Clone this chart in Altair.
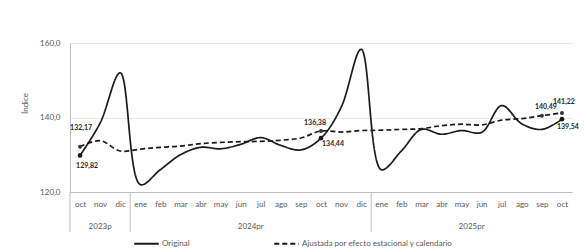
import altair as alt
import pandas as pd

# ---- data ----
meses = ["oct", "nov", "dic", "ene", "feb", "mar", "abr", "may", "jun", "jul", "ago", "sep",
         "oct", "nov", "dic", "ene", "feb", "mar", "abr", "may", "jun", "jul", "ago", "sep", "oct"]
anios = ["2023p"] * 3 + ["2024pr"] * 12 + ["2025pr"] * 10
original = [129.82, 138.5, 152.0, 122.0, 126.0, 130.0, 132.0, 131.6, 132.8, 134.6, 132.5, 131.3,
            134.44, 142.7, 158.3, 126.0, 131.0, 136.8, 135.5, 136.5, 136.0, 143.2, 138.3, 136.8, 139.54]
ajustada = [132.17, 133.8, 131.0, 131.5, 132.0, 132.3, 133.0, 133.3, 133.5, 133.6, 133.9, 134.5,
            136.38, 136.1, 136.5, 136.6, 136.8, 137.0, 137.8, 138.2, 138.0, 139.3, 139.7, 140.49, 141.22]
series = ["Original", "Ajustada por efecto estacional y calendario"]
y_ticks = [120, 140, 160]
eje_titulo = "Índice"

# which points carry a value label (index in the series)
etiq_original = [0, 12, 24]
etiq_ajustada = [0, 12, 23, 24]

# ---- tables ----
rows = []
for i, m in enumerate(meses):
    rows.append(dict(i=i, mes=m, anio=anios[i], serie=series[0], valor=original[i]))
    rows.append(dict(i=i, mes=m, anio=anios[i], serie=series[1], valor=ajustada[i]))
df = pd.DataFrame(rows)
df["texto"] = df["valor"].map(lambda v: f"{v:.2f}".replace(".", ","))

grupos = []
for a in dict.fromkeys(anios):
    idx = [i for i, v in enumerate(anios) if v == a]
    grupos.append(dict(anio=a, i=(idx[0] + idx[-1]) / 2, inicio=idx[0] - 0.5))
df_grupos = pd.DataFrame(grupos)

FONT = "Lato"
GRAY = "#595959"
INK = "#1a1a1a"

x_scale = alt.Scale(domain=[-0.5, len(meses) - 0.5], nice=False, zero=False)
y_scale = alt.Scale(domain=[120, 160], nice=False, zero=False)
month_expr = "[" + ",".join(f"'{m}'" for m in meses) + "][datum.value]"

x_axis = alt.Axis(values=list(range(len(meses))), labelExpr=month_expr, title=None, grid=False,
                  ticks=False, domain=True, domainColor="#bfbfbf", domainWidth=1,
                  labelFontSize=8, labelColor=GRAY, labelFont=FONT, labelPadding=8,
                  labelOverlap=False, labelFlush=False)
y_axis = alt.Axis(values=y_ticks, labelExpr="replace(format(datum.value, '.1f'), '.', ',')",
                  title=eje_titulo, titleFont=FONT, titleFontSize=8, titleFontWeight="normal",
                  titleColor=GRAY, titleX=-45, titleY=60, titleAngle=270, titleAlign="center",
                  titleBaseline="middle",
                  grid=True, gridColor="#e3e3e3", gridWidth=0.8, ticks=False,
                  domain=True, domainColor="#bfbfbf", labelFontSize=8, labelColor=GRAY,
                  labelFont=FONT, labelPadding=10)

X = alt.X("i:Q", scale=x_scale, axis=x_axis)
Y = alt.Y("valor:Q", scale=y_scale, axis=y_axis)

base = alt.Chart(df)

lines = base.mark_line(interpolate="catmull-rom", color=INK, strokeWidth=1.7).encode(
    x=X, y=Y,
    strokeDash=alt.StrokeDash(
        "serie:N",
        scale=alt.Scale(domain=series, range=[[1, 0], [5, 3]]),
        legend=alt.Legend(title=None, orient="none", legendX=63, legendY=187, padding=0,
                          direction="horizontal", symbolType="stroke", symbolSize=600,
                          symbolStrokeWidth=1.8, symbolStrokeColor=INK,
                          labelFont=FONT, labelFontSize=8, labelColor=GRAY,
                          labelOffset=2, columnPadding=80, labelLimit=400),
    ),
)


def in_list(serie, idxs):
    arr = "[" + ",".join(str(k) for k in idxs) + "]"
    return f"datum.serie == '{serie}' && indexof({arr}, datum.i) >= 0"


pts_o = base.transform_filter(in_list(series[0], etiq_original)).mark_point(
    filled=True, shape="circle", size=22, color=INK, opacity=1).encode(x=X, y=Y)
pts_a = base.transform_filter(in_list(series[1], etiq_ajustada)).mark_point(
    filled=True, shape="circle", size=16, color="#333333", opacity=1).encode(x=X, y=Y)

# label placement (style only)
label_style = {
    (0, 0): (7, 11), (1, 0): (1, -19),
    (0, 12): (12, 6), (1, 12): (-6, -8),
    (0, 24): (6, 8), (1, 24): (2, -11),
    (1, 23): (4, -9),
}
label_layers = []
for (s, idx), (dx, dy) in label_style.items():
    label_layers.append(
        base.transform_filter(in_list(series[s], [idx]))
        .mark_text(dx=dx, dy=dy, font=FONT, fontSize=7, fontWeight="bold", color="#262626")
        .encode(x=X, y=Y, text="texto:N")
    )

seps = alt.Chart(df_grupos).mark_rule(color="#bfbfbf", strokeWidth=1).encode(
    x=alt.X("inicio:Q", scale=x_scale, axis=x_axis),
    y=alt.value(149), y2=alt.value(189),
)
year_text = alt.Chart(df_grupos).mark_text(font=FONT, fontSize=8, color=GRAY).encode(
    x=alt.X("i:Q", scale=x_scale, axis=x_axis),
    y=alt.value(184),
    text="anio:N",
)

chart = alt.layer(seps, lines, pts_a, pts_o, *label_layers, year_text).properties(
    width=502, height=149,
    padding={"left": 62, "top": 35, "right": 7, "bottom": 56},
    autosize=alt.AutoSizeParams(type="none"),
    background="white",
).configure_view(stroke=None)

chart.save("out.html", embed_options={"renderer": "svg", "actions": False})
